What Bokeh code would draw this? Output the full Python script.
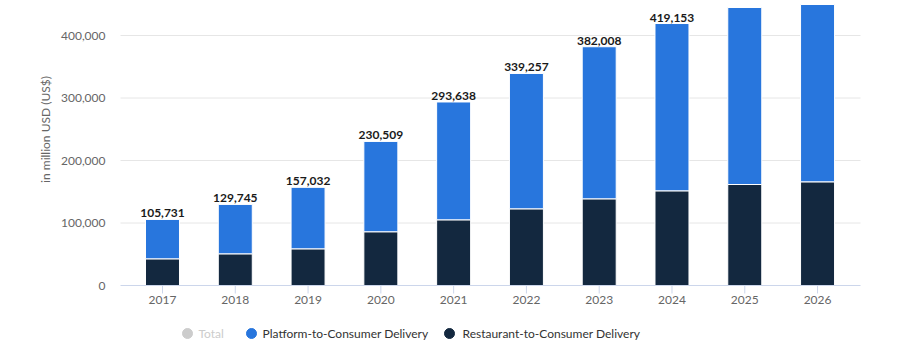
import math
from bokeh.plotting import figure
from bokeh.models import Range1d, ColumnDataSource
from bokeh.embed import file_html
from bokeh.resources import INLINE
from bokeh.core.properties import value

# ---- data (million US$) ----
years = [2017, 2018, 2019, 2020, 2021, 2022, 2023, 2024, 2025, 2026]
totals = [105731, 129745, 157032, 230509, 293638, 339257, 382008, 419153, 444800, 449600]
restaurant = [42700, 50700, 58700, 86000, 105100, 122700, 138700, 151500, 161600, 165900]
platform = [t - r for t, r in zip(totals, restaurant)]
label_years = [2017, 2018, 2019, 2020, 2021, 2022, 2023, 2024]   # totals visible in the picture
label_totals = totals[:len(label_years)]
total_labels = [f"{t:,}" for t in label_totals]
year_labels = [str(y) for y in years]
y_ticks = [0, 100000, 200000, 300000, 400000]
y_tick_labels = [f"{t:,}" for t in y_ticks]
y_title = "in million USD (US$)"
series_names = ["Total", "Platform-to-Consumer Delivery", "Restaurant-to-Consumer Delivery"]

BLUE = "#2876dd"
DARK = "#13283f"
GRAY_TXT = "#666666"
AXIS_COL = "#ccd6eb"
GRID_COL = "#e6e6e6"
FONT = "Lato"

# ---- layout (pixels) ----
W, H = 908, 350
FL, FR, FB = 120, 860, 285          # plot area left/right edges, zero line
X0, X1 = 2016.423, 2026.59          # data x at FL / FR
XPP = (X1 - X0) / (FR - FL)         # years per pixel
YPP = 1600.0                        # value units per pixel


def px2x(px):
    return X0 + (px - FL) * XPP


def py2y(py):
    return (FB - py) * YPP


p = figure(width=W, height=H,
           x_range=Range1d(px2x(0), px2x(W)), y_range=Range1d(py2y(H), py2y(0)),
           x_axis_type=None, y_axis_type=None,
           min_border=0, min_border_left=0, min_border_right=0, min_border_top=0, min_border_bottom=0,
           output_backend="svg", toolbar_location=None)
p.outline_line_color = None
p.background_fill_color = "white"
p.border_fill_color = "white"
p.xgrid.visible = False
p.ygrid.visible = False

# grid lines
p.segment(x0=X0, x1=X1, y0=y_ticks[1:], y1=y_ticks[1:], line_color=GRID_COL, line_width=1)

# bars
src = ColumnDataSource(dict(x=years, total=totals, rest=restaurant, plat=platform))
BAR_W = 0.467
p.vbar(x="x", width=BAR_W, bottom=0, top="rest", source=src,
       fill_color=DARK, line_color="white", line_width=1)
p.vbar(x="x", width=BAR_W, bottom="rest", top="total", source=src,
       fill_color=BLUE, line_color="white", line_width=1)

# x axis line and ticks
p.segment(x0=X0, x1=X1, y0=0, y1=0, line_color=AXIS_COL, line_width=1)
p.segment(x0=years, x1=years, y0=0, y1=py2y(FB + 8), line_color=AXIS_COL, line_width=1)

# x tick labels
p.text(x=years, y=py2y(299.5), text=year_labels, text_align="center", text_baseline="middle",
       text_font=value(FONT), text_font_size="12px", text_color=GRAY_TXT)

# y tick labels
p.text(x=px2x(105), y=y_ticks, text=y_tick_labels, text_align="right", text_baseline="middle",
       text_font=value(FONT), text_font_size="12px", text_color=GRAY_TXT)

# y title
p.text(x=[px2x(45)], y=[py2y(129)], text=[y_title], angle=math.pi / 2,
       text_align="center", text_baseline="middle",
       text_font=value(FONT), text_font_size="12px", text_color=GRAY_TXT)

# total labels above the bars
lsrc = ColumnDataSource(dict(x=label_years, y=label_totals, lab=total_labels))
p.text(x="x", y="y", text="lab", source=lsrc, text_align="center", text_baseline="bottom",
       y_offset=-2, text_font=value(FONT), text_font_style="bold", text_font_size="12px",
       text_color="#1a1a1a")

# legend
LEG_Y = py2y(333)
leg_marker_px = [187, 251, 449]
leg_text_px = [198, 262, 462]
leg_marker_col = ["#cccccc", BLUE, DARK]
leg_text_col = ["#cccccc", "#333333", "#333333"]
p.scatter(x=[px2x(v) for v in leg_marker_px], y=LEG_Y, marker="circle", size=10,
          fill_color=leg_marker_col, line_color=leg_marker_col)
p.text(x=[px2x(v) for v in leg_text_px], y=LEG_Y, text=series_names, text_align="left",
       text_baseline="middle", text_font=value(FONT), text_font_size="12px",
       text_color=leg_text_col)

open("out.html", "w").write(file_html(p, INLINE))
